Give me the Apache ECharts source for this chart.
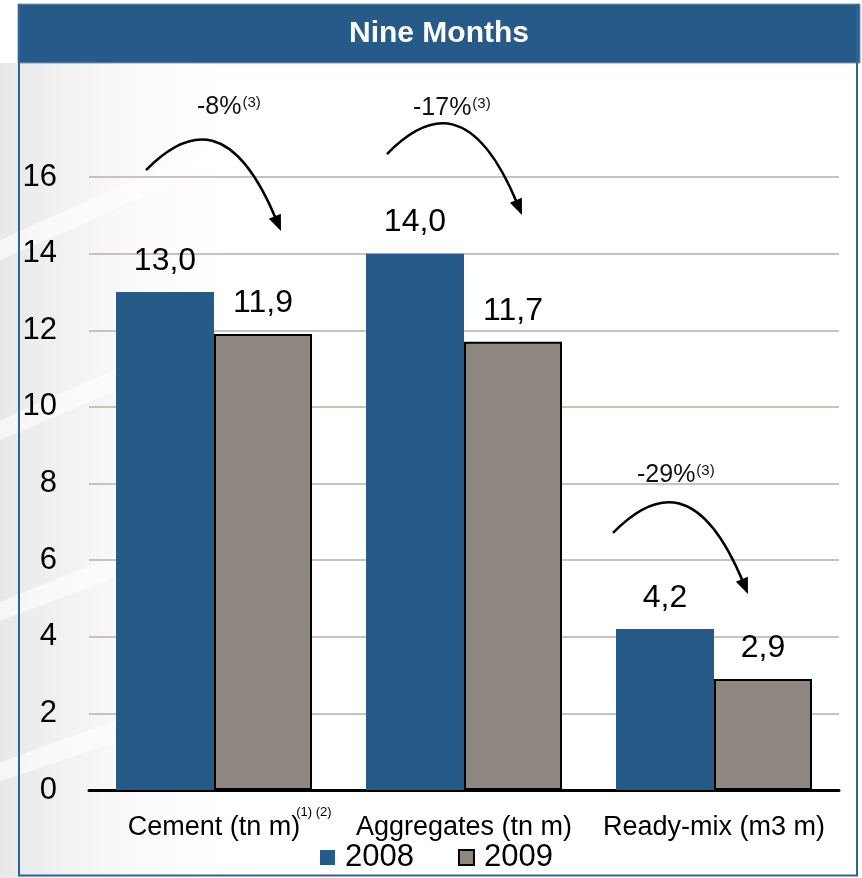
<!DOCTYPE html>
<html>
<head>
<meta charset="utf-8">
<script src="https://cdn.jsdelivr.net/npm/echarts@6/dist/echarts.min.js"></script>
<style>
  html, body { margin: 0; padding: 0; background: #ffffff; }
  #chart { width: 862px; height: 878px; }
</style>
</head>
<body>
<div id="chart"></div>
<script>
// Volumes, nine months 2008 vs 2009
const categories = ['Cement (tn m)', 'Aggregates (tn m)', 'Ready-mix (m3 m)'];
const seriesNames = ['2008', '2009'];
const values2008 = [13.0, 14.0, 4.2];
const values2009 = [11.9, 11.7, 2.9];
const yMin = 0;
const yMax = 16;
const yStep = 2;
const changes = ['-8%', '-17%', '-29%'];
const changeNote = '(3)';
const cementNote = '(1) (2)';
const titleText = 'Nine Months';

// Placement of the change annotations: x offset from the category centre (px),
// heights given on the value scale.
const noteLayout = [
  { arrowDx: -68, arrowY: 16.18, textDx: -17, textY: 17.83 },
  { arrowDx: -77, arrowY: 16.60, textDx: -51, textY: 17.80 },
  { arrowDx: -101, arrowY: 6.71, textDx: -77, textY: 8.22 }
];

const FONT = '"Liberation Sans", Arial, sans-serif';
const BLUE = '#265a88';
const GREY = '#8e8780';
const FRAME = '#2f6496';

const fmt = v => v.toFixed(1).replace('.', ',');

const chart = echarts.init(document.getElementById('chart'), null, { renderer: 'canvas' });

const option = {
  backgroundColor: '#ffffff',
  animation: false,
  textStyle: { fontFamily: FONT },
  grid: { left: 89, right: 23, top: 177, bottom: 88, containLabel: false },
  legend: {
    data: [
      { name: seriesNames[0], itemStyle: { color: BLUE, borderWidth: 0 } },
      { name: seriesNames[1], itemStyle: { color: GREY, borderColor: '#000', borderWidth: 2 } }
    ],
    left: 320,
    top: 842,
    icon: 'rect',
    itemWidth: 15,
    itemHeight: 15,
    itemGap: 44,
    padding: 0,
    textStyle: {
      fontSize: 31, color: '#000', fontFamily: FONT,
      verticalAlign: 'top', lineHeight: 12, padding: [0, 0, 0, 5]
    }
  },
  xAxis: {
    type: 'category',
    data: categories,
    axisTick: { show: false },
    axisLine: { lineStyle: { color: '#000', width: 3 } },
    axisLabel: { fontSize: 27, color: '#000', margin: 24, fontFamily: FONT, interval: 0 }
  },
  yAxis: {
    type: 'value',
    min: yMin,
    max: yMax,
    interval: yStep,
    axisLine: { show: false },
    axisTick: { show: false },
    axisLabel: { fontSize: 31, color: '#000', margin: 32, fontFamily: FONT },
    splitLine: { lineStyle: { color: '#c9c2bb', width: 2 } }
  },
  series: [
    {
      name: seriesNames[0],
      type: 'bar',
      data: values2008,
      barGap: '0%',
      barCategoryGap: '21.6%',
      itemStyle: { color: BLUE },
      label: {
        show: true, position: 'top', distance: 15,
        fontSize: 32, color: '#000', fontFamily: FONT,
        formatter: p => fmt(p.value)
      },
      z: 3
    },
    {
      name: seriesNames[1],
      type: 'bar',
      data: values2009,
      itemStyle: { color: GREY, borderColor: '#000', borderWidth: 2 },
      label: {
        show: true, position: 'top', distance: 15,
        fontSize: 32, color: '#000', fontFamily: FONT,
        formatter: p => fmt(p.value)
      },
      z: 3
    }
  ]
};

chart.setOption(option);

function measure(text, font) {
  const ctx = document.createElement('canvas').getContext('2d');
  ctx.font = font;
  return ctx.measureText(text).width;
}

// Decorations: frame, header band, background sweeps, change arrows, footnote marks
function buildGraphics() {
  const g = [];

  // soft background sweeps
  g.push({
    type: 'rect', z: -20, silent: true,
    shape: { x: 0, y: 63, width: 862, height: 815 },
    style: {
      fill: new echarts.graphic.LinearGradient(0, 0, 1, 0, [
        { offset: 0, color: 'rgba(232,232,232,1)' },
        { offset: 0.1, color: 'rgba(242,242,242,0.8)' },
        { offset: 0.3, color: 'rgba(255,255,255,0)' }
      ])
    }
  });
  const sweeps = [
    [[-20, 250], [260, 130], [260, 140], [-20, 268]],
    [[-20, 430], [380, 260], [380, 270], [-20, 448]],
    [[-20, 610], [480, 420], [480, 430], [-20, 628]],
    [[-20, 770], [560, 570], [560, 580], [-20, 788]]
  ];
  sweeps.forEach(pts => g.push({
    type: 'polygon', z: -19, silent: true,
    shape: { points: pts, smooth: 0.3 },
    style: { fill: 'rgba(255,255,255,0.6)' }
  }));

  // header band
  g.push({
    type: 'rect', z: 10, silent: true,
    shape: { x: 18, y: 4, width: 842, height: 59 },
    style: { fill: '#265b89', stroke: '#7f9ab4', lineWidth: 1 }
  });
  g.push({
    type: 'text', z: 11, silent: true,
    style: {
      text: titleText, x: 439, y: 34, align: 'center', verticalAlign: 'middle',
      font: 'bold 30px ' + FONT, fill: '#ffffff'
    }
  });
  // frame
  g.push({ type: 'line', z: 10, silent: true, shape: { x1: 19, y1: 4, x2: 19, y2: 876 }, style: { stroke: FRAME, lineWidth: 2 } });
  g.push({ type: 'line', z: 10, silent: true, shape: { x1: 857, y1: 4, x2: 857, y2: 876 }, style: { stroke: FRAME, lineWidth: 2 } });
  g.push({ type: 'line', z: 10, silent: true, shape: { x1: 18, y1: 875.5, x2: 858, y2: 875.5 }, style: { stroke: FRAME, lineWidth: 2 } });

  // change arrows and percentages
  categories.forEach((cat, i) => {
    const cx = chart.convertToPixel({ xAxisIndex: 0 }, i);
    const L = noteLayout[i];
    const sx = cx + L.arrowDx;
    const sy = chart.convertToPixel({ yAxisIndex: 0 }, L.arrowY);
    const c1 = [sx + 44, sy - 45];
    const c2 = [sx + 89, sy - 50];
    const tip = [sx + 135, sy + 61];
    let dx = tip[0] - c2[0], dy = tip[1] - c2[1];
    const len = Math.hypot(dx, dy);
    dx /= len; dy /= len;
    const headLen = 16, headHalf = 6.5;
    const back = [tip[0] - dx * headLen, tip[1] - dy * headLen];
    g.push({
      type: 'bezierCurve', z: 12, silent: true,
      shape: { x1: sx, y1: sy, cpx1: c1[0], cpy1: c1[1], cpx2: c2[0], cpy2: c2[1], x2: back[0] + dx * 4, y2: back[1] + dy * 4 },
      style: { stroke: '#000', lineWidth: 2.5, fill: null }
    });
    g.push({
      type: 'polygon', z: 12, silent: true,
      shape: { points: [tip, [back[0] - dy * headHalf, back[1] + dx * headHalf], [back[0] + dy * headHalf, back[1] - dx * headHalf]] },
      style: { fill: '#000' }
    });

    const tx = cx + L.textDx;
    const ty = chart.convertToPixel({ yAxisIndex: 0 }, L.textY);
    const mainFont = '25px ' + FONT;
    g.push({
      type: 'text', z: 12, silent: true,
      style: { text: changes[i], x: tx, y: ty, align: 'left', verticalAlign: 'middle', font: mainFont, fill: '#111' }
    });
    const w = measure(changes[i], mainFont);
    g.push({
      type: 'text', z: 12, silent: true,
      style: { text: changeNote, x: tx + w + 1, y: ty - 4, align: 'left', verticalAlign: 'middle', font: '15px ' + FONT, fill: '#111' }
    });
  });

  // footnote marks next to the cement label
  const labelFont = '27px ' + FONT;
  const c0 = chart.convertToPixel({ xAxisIndex: 0 }, 0);
  const axisY = chart.convertToPixel({ yAxisIndex: 0 }, yMin);
  const lw = measure(categories[0], labelFont);
  g.push({
    type: 'text', z: 12, silent: true,
    style: { text: cementNote, x: c0 + lw / 2 - 4, y: axisY + 22, align: 'left', verticalAlign: 'middle', font: '13px ' + FONT, fill: '#000' }
  });

  return g;
}

chart.setOption({ graphic: { elements: buildGraphics() } });
</script>
</body>
</html>
